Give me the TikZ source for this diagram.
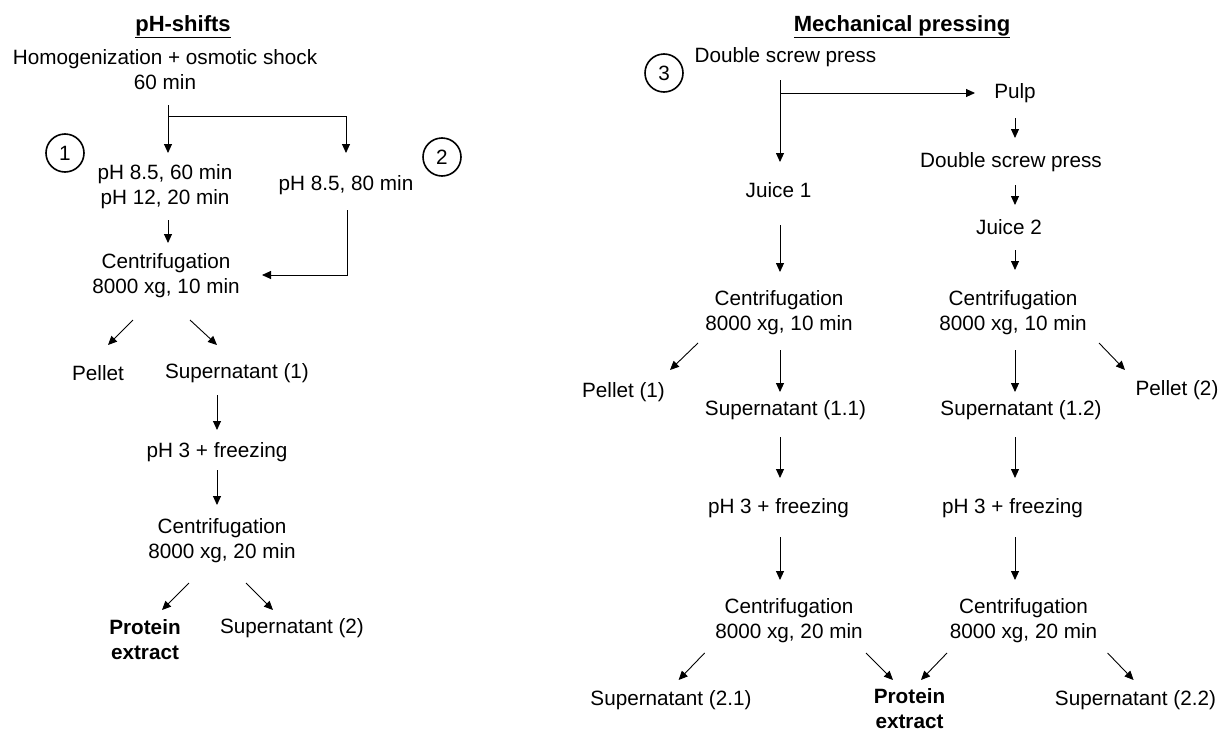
\documentclass[tikz,border=0pt]{standalone}
\usepackage{fontspec}
\setmainfont{Liberation Sans}
\usetikzlibrary{arrows.meta,calc}
\tikzset{
  txt/.style={inner sep=0pt, align=center, font=\fontsize{20.7}{25}\selectfont},
  ttl/.style={inner sep=0pt, anchor=base, font=\fontsize{22}{26}\selectfont\bfseries},
  bld/.style={txt, font=\fontsize{20.7}{25}\selectfont\bfseries},
  num/.style={draw, circle, line width=1.6pt, minimum size=38pt, inner sep=0pt, font=\fontsize{20.7}{25}\selectfont},
  arr/.style={line width=0.9pt, -{Triangle[length=9pt,width=8pt]}}
}
\begin{document}
\begin{tikzpicture}[x=1pt,y=-1pt]
\path[use as bounding box] (0,0) rectangle (1221,731);
% ---------- left panel: pH-shifts ----------
\node[ttl] (tL) at (183,31) {\underline{pH-shifts}};
\node[txt] (hom) at (165,69.5) {Homogenization + osmotic shock\\60 min};
\node[num] (c1) at (65,153) {1};
\node[txt] (p1) at (165,187) {pH 8.5, 60 min\\pH 12, 20 min};
\node[num] (c2) at (442,157) {2};
\node[txt] (p2) at (346,185) {pH 8.5, 80 min};
\node[txt] (cenA) at (166,276) {Centrifugation\\8000 xg, 10 min};
\node[txt] (pel) at (98,373) {Pellet};
\node[txt] (supA) at (237,373) {Supernatant (1)};
\node[txt] (frzA) at (217,452) {pH 3 + freezing};
\node[txt] (cenB) at (222,541) {Centrifugation\\8000 xg, 20 min};
\node[bld] (protA) at (145,640) {Protein\\extract};
\node[txt] (supB) at (292,628) {Supernatant (2)};

\draw[arr] ($(hom)+(3,35.5)$) -- ($(p1)+(3,-34)$);
\draw[arr] ($(hom)+(3,46.5)$) -| ($(p2)+(0,-32)$);
\draw[arr] ($(p1)+(3,33)$) -- ($(cenA)+(2,-33)$);
\draw[arr] ($(p2)+(1,25)$) |- ($(cenA)+(96,-1)$);
\draw[arr] ($(cenA)+(-33,44)$) -- ($(pel)+(10,-28)$);
\draw[arr] ($(cenA)+(24,44)$) -- ($(supA)+(-20,-28)$);
\draw[arr] ($(supA)+(-20,22)$) -- ($(frzA)+(0,-22)$);
\draw[arr] ($(frzA)+(0,18)$) -- ($(cenB)+(-5,-36)$);
\draw[arr] ($(cenB)+(-33,42)$) -- ($(protA)+(17,-30)$);
\draw[arr] ($(cenB)+(24,42)$) -- ($(supB)+(-19,-18)$);

% ---------- right panel: Mechanical pressing ----------
\node[ttl] (tR) at (902,31) {\underline{Mechanical pressing}};
\node[num] (c3) at (664,73) {3};
\node[txt] (dsp1) at (785.5,57) {Double screw press};
\node[txt] (pulp) at (1015,93) {Pulp};
\node[txt] (dsp2) at (1011,162) {Double screw press};
\node[txt] (j2) at (1009,227) {Juice 2};
\node[txt] (j1) at (778.5,190) {Juice 1};
\node[txt] (cenL) at (779,312.5) {Centrifugation\\8000 xg, 10 min};
\node[txt] (cenR) at (1013,312.5) {Centrifugation\\8000 xg, 10 min};
\node[txt] (pel1) at (623.5,392) {Pellet (1)};
\node[txt] (supL) at (785.5,410) {Supernatant (1.1)};
\node[txt] (supR) at (1021,410) {Supernatant (1.2)};
\node[txt] (pel2) at (1177,390) {Pellet (2)};
\node[txt] (frzL) at (778.5,508) {pH 3 + freezing};
\node[txt] (frzR) at (1012.5,508) {pH 3 + freezing};
\node[txt] (cenL2) at (789,620.5) {Centrifugation\\8000 xg, 20 min};
\node[txt] (cenR2) at (1023.5,620.5) {Centrifugation\\8000 xg, 20 min};
\node[txt] (sup21) at (671,700) {Supernatant (2.1)};
\node[bld] (protB) at (909.5,709) {Protein\\extract};
\node[txt] (sup22) at (1135.5,700) {Supernatant (2.2)};

\draw[arr] ($(dsp1)+(-5.5,23)$) -- ($(j1)+(1.5,-28)$);
\draw[arr] ($(dsp1)+(-5.5,36)$) -- ($(pulp)+(-40,0)$);
\draw[arr] ($(pulp)+(0,25)$) -- ($(dsp2)+(4,-24)$);
\draw[arr] ($(dsp2)+(4,23)$) -- ($(j2)+(6,-22)$);
\draw[arr] ($(j1)+(1.5,35)$) -- ($(cenL)+(1,-40.5)$);
\draw[arr] ($(j2)+(6,23)$) -- ($(cenR)+(2,-42.5)$);
\draw[arr] ($(cenL)+(-81,30.5)$) -- ($(pel1)+(46.5,-22)$);
\draw[arr] ($(cenL)+(1,37.5)$) -- ($(supL)+(-5.5,-18)$);
\draw[arr] ($(cenR)+(2,37.5)$) -- ($(supR)+(-6,-18)$);
\draw[arr] ($(cenR)+(86,30.5)$) -- ($(pel2)+(-52,-20)$);
\draw[arr] ($(supL)+(-5.5,27)$) -- ($(frzL)+(1.5,-30)$);
\draw[arr] ($(supR)+(-6,27)$) -- ($(frzR)+(2.5,-30)$);
\draw[arr] ($(frzL)+(1.5,29)$) -- ($(cenL2)+(-9,-40.5)$);
\draw[arr] ($(frzR)+(2.5,29)$) -- ($(cenR2)+(-8.5,-40.5)$);
\draw[arr] ($(cenL2)+(-84.4,32.5)$) -- ($(sup21)+(7.6,-20)$);
\draw[arr] ($(cenL2)+(77,32.5)$) -- ($(protB)+(-16.5,-29)$);
\draw[arr] ($(cenR2)+(-76.5,32.5)$) -- ($(protB)+(11.5,-29)$);
\draw[arr] ($(cenR2)+(84.1,32.5)$) -- ($(sup22)+(-1.9,-20)$);
\end{tikzpicture}
\end{document}
